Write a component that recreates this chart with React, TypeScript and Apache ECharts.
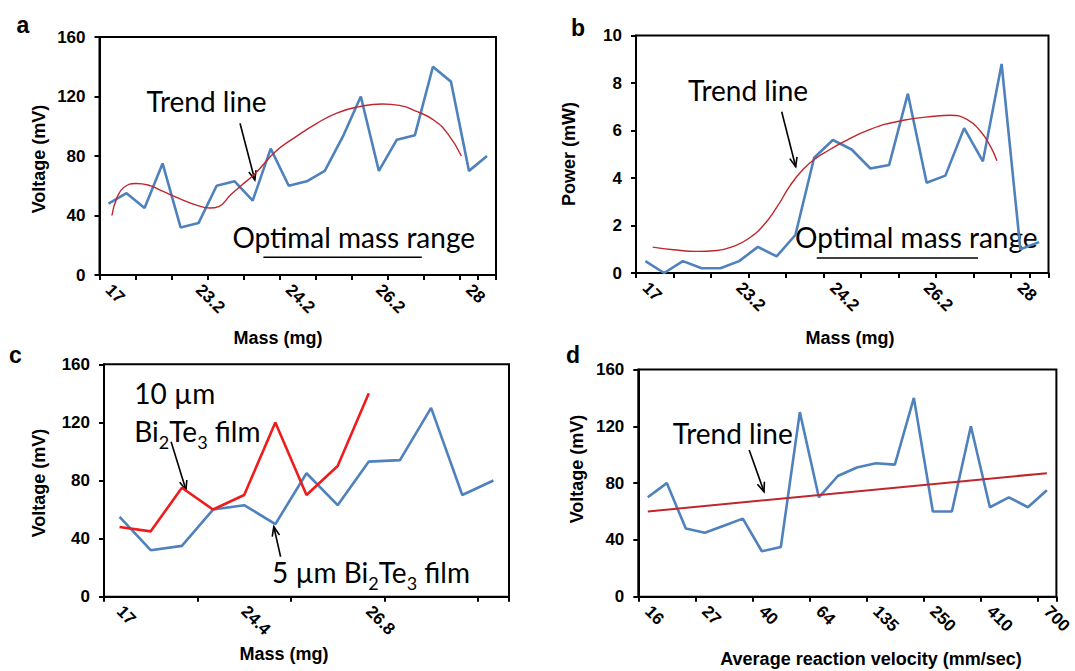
import React, { useEffect, useRef } from 'react';
import * as echarts from 'echarts';

// ---------- data ----------
const massA = ['17', '', '', '', '', '23.2', '', '', '', '', '24.2', '', '', '', '', '26.2', '', '', '', '', '28', ''];
const voltA = [48, 55, 45, 75, 32, 35, 60, 63, 50, 85, 60, 63, 70, 93, 120, 70, 91, 94, 140, 130, 70, 80];
const trendAX = [0.19, 0.47, 0.86, 1.53, 2.19, 2.96, 3.91, 4.87, 5.63, 6.11, 6.78, 7.35, 8.12, 9.27, 10.41, 11.56, 12.7, 13.85, 15.19, 16.14, 17.1, 18.06, 18.82, 19.58];
const trendAY = [40, 52, 59, 61.5, 60.5, 56.5, 51.5, 47, 45, 46, 54, 60, 68, 83, 93, 102, 109, 113, 115, 114, 110, 104, 95, 80];

const massB = ['17', '', '', '', '', '23.2', '', '', '', '', '24.2', '', '', '', '', '26.2', '', '', '', '', '28', ''];
const powerB = [0.5, 0, 0.5, 0.2, 0.2, 0.5, 1.1, 0.7, 1.6, 4.85, 5.6, 5.2, 4.4, 4.55, 7.55, 3.8, 4.1, 6.1, 4.7, 8.8, 1.0, 1.3];
const trendBX = [0.39, 1.49, 2.74, 3.81, 4.69, 5.49, 6.29, 7.01, 7.72, 8.43, 9.14, 9.85, 10.39, 11.99, 13.76, 15.55, 16.26, 17.15, 17.86, 18.39, 18.75];
const trendBY = [1.09, 0.98, 0.91, 0.95, 1.12, 1.44, 2.0, 2.77, 3.68, 4.38, 4.86, 5.2, 5.45, 6.05, 6.43, 6.61, 6.64, 6.47, 5.98, 5.35, 4.73];

const massC = ['17', '', '', '', '24.4', '', '', '', '26.8', '', '', '', ''];
const volt5um = [55, 32, 35, 60, 63, 50, 85, 63, 93, 94, 130, 70, 80];
const volt10um = [48, 45, 75, 60, 70, 120, 70, 90, 140];

const velocityD = ['16', '', '', '27', '', '', '40', '', '', '64', '', '', '135', '', '', '250', '', '', '410', '', '', '700'];
const voltD = [70, 80, 48, 45, 50, 55, 32, 35, 130, 70, 85, 91, 94, 93, 140, 60, 60, 120, 63, 70, 63, 75];
const trendDX = [0, 21];
const trendDY = [60, 87];

// ---------- styles ----------
const AX_FONT = 'Liberation Sans, Arial, sans-serif';
const NOTE_FONT = 'Lato, sans-serif';
const BLUE = '#4F81BD';
const TREND = '#C0262D';
const RED = '#EE1C1C';

const zip = (xs: number[], ys: number[]) => xs.map((x, i) => [x, ys[i]]);

const catAxis = (gridIndex: number, data: string[], tickInterval: number) => ({
  type: 'category',
  gridIndex,
  data,
  boundaryGap: true,
  axisLine: { onZero: false, lineStyle: { color: '#000', width: 2 } },
  axisTick: { show: true, interval: tickInterval, length: 5, lineStyle: { color: '#000', width: 2 } },
  axisLabel: { interval: 0, rotate: -45, margin: 12, color: '#000', fontWeight: 'bold', fontSize: 17, fontFamily: AX_FONT },
  splitLine: { show: false },
});

const valAxis = (gridIndex: number, max: number, interval: number) => ({
  type: 'value',
  gridIndex,
  min: 0,
  max,
  interval,
  axisLine: { show: true, onZero: false, lineStyle: { color: '#000', width: 2 } },
  axisTick: { show: true, length: 5, lineStyle: { color: '#000', width: 2 } },
  axisLabel: { margin: 14, color: '#000', fontWeight: 'bold', fontSize: 17, fontFamily: AX_FONT },
  splitLine: { show: false },
});

const hiddenX = (gridIndex: number, n: number) => ({
  type: 'value', gridIndex, min: -0.5, max: n - 0.5, show: false,
  axisLine: { show: false, onZero: false }, axisTick: { show: false }, axisLabel: { show: false }, splitLine: { show: false },
});

const text = (x: number, y: number, t: string, o: any = {}) => ({
  type: 'text', x, y, silent: true, rotation: o.rotation || 0,
  style: {
    text: t, fill: '#000',
    fontSize: o.size || 28, fontFamily: o.family || NOTE_FONT, fontWeight: o.weight || 'normal',
    align: o.align || 'left', verticalAlign: 'middle',
    textAlign: o.align || 'left', textVerticalAlign: 'middle',
    rich: o.rich,
  },
});

const title = (x: number, y: number, t: string, vertical = false) =>
  text(x, y, t, { size: 18, family: AX_FONT, weight: 'bold', align: 'center', rotation: vertical ? Math.PI / 2 : 0 });

const letter = (x: number, y: number, t: string) =>
  text(x, y, t, { size: 23, family: AX_FONT, weight: 'bold', align: 'center' });

const arrow = (x1: number, y1: number, x2: number, y2: number) => {
  const a = Math.atan2(y2 - y1, x2 - x1);
  const L = 10, w = 0.38;
  const p1 = [x2 - L * Math.cos(a - w), y2 - L * Math.sin(a - w)];
  const p2 = [x2 - L * Math.cos(a + w), y2 - L * Math.sin(a + w)];
  return [
    { type: 'line', silent: true, shape: { x1, y1, x2, y2 }, style: { stroke: '#000', lineWidth: 1.6 } },
    { type: 'polyline', silent: true, shape: { points: [p1, [x2, y2], p2] }, style: { stroke: '#000', lineWidth: 1.6, fill: 'none' } },
  ];
};

const hline = (x1: number, x2: number, y: number) => ({
  type: 'line', silent: true, shape: { x1, y1: y, x2, y2: y }, style: { stroke: '#000', lineWidth: 1.6 },
});

const subRich = {
  n: { fontSize: 28, fontFamily: NOTE_FONT, lineHeight: 40, fill: '#000', color: '#000' },
  s: { fontSize: 18, fontFamily: NOTE_FONT, lineHeight: 18, verticalAlign: 'bottom', fill: '#000', color: '#000' },
};

export default function App() {
  const ref = useRef<HTMLDivElement>(null);
  useEffect(() => {
    if (!ref.current) return;
    const chart = echarts.init(ref.current, null, { renderer: 'svg' });
    const gridBase = { show: true, borderColor: '#000', borderWidth: 2, backgroundColor: 'transparent', containLabel: false };
    const option: any = {
      animation: false,
      backgroundColor: '#fff',
      grid: [
        { ...gridBase, left: 99.5, top: 37, width: 396.5, height: 238 },
        { ...gridBase, left: 636, top: 35.5, width: 412.5, height: 237.5 },
        { ...gridBase, left: 104, top: 364.3, width: 405, height: 232.4 },
        { ...gridBase, left: 638.3, top: 369.5, width: 421.5, height: 227.2 },
      ],
      xAxis: [
        catAxis(0, massA, 1),
        catAxis(1, massB, 1),
        catAxis(2, massC, 2),
        catAxis(3, velocityD, 2),
        hiddenX(0, massA.length),
        hiddenX(1, massB.length),
        hiddenX(3, velocityD.length),
      ],
      yAxis: [
        valAxis(0, 160, 40),
        valAxis(1, 10, 2),
        valAxis(2, 160, 40),
        valAxis(3, 160, 40),
      ],
      series: [
        { type: 'line', xAxisIndex: 0, yAxisIndex: 0, data: voltA, symbol: 'none', lineStyle: { color: BLUE, width: 2.6 } },
        { type: 'line', xAxisIndex: 4, yAxisIndex: 0, data: zip(trendAX, trendAY), smooth: 0.5, symbol: 'none', lineStyle: { color: TREND, width: 1.4 } },
        { type: 'line', xAxisIndex: 1, yAxisIndex: 1, data: powerB, symbol: 'none', lineStyle: { color: BLUE, width: 2.6 } },
        { type: 'line', xAxisIndex: 5, yAxisIndex: 1, data: zip(trendBX, trendBY), smooth: 0.5, symbol: 'none', lineStyle: { color: TREND, width: 1.4 } },
        { type: 'line', xAxisIndex: 2, yAxisIndex: 2, data: volt5um, symbol: 'none', lineStyle: { color: BLUE, width: 2.6 } },
        { type: 'line', xAxisIndex: 2, yAxisIndex: 2, data: volt10um, symbol: 'none', lineStyle: { color: RED, width: 2.6 } },
        { type: 'line', xAxisIndex: 3, yAxisIndex: 3, data: voltD, symbol: 'none', lineStyle: { color: BLUE, width: 2.6 } },
        { type: 'line', xAxisIndex: 6, yAxisIndex: 3, data: zip(trendDX, trendDY), symbol: 'none', lineStyle: { color: TREND, width: 2 } },
      ],
      graphic: [
        letter(23, 25, 'a'),
        letter(578, 28, 'b'),
        letter(15.5, 355, 'c'),
        letter(573, 355, 'd'),
        title(38.6, 159, 'Voltage (mV)', true),
        title(569.4, 154, 'Power (mW)', true),
        title(38.6, 483, 'Voltage (mV)', true),
        title(577, 469, 'Voltage (mV)', true),
        title(278, 338, 'Mass (mg)'),
        title(850, 338, 'Mass (mg)'),
        title(284, 654, 'Mass (mg)'),
        title(871, 659, 'Average reaction velocity (mm/sec)'),
        text(146.5, 101, 'Trend line'),
        ...arrow(240, 123.3, 254.8, 180),
        text(232.4, 236.7, 'Optimal mass range'),
        hline(263.4, 421.8, 257.3),
        text(688, 90, 'Trend line'),
        ...arrow(781.7, 111.7, 795.7, 166.7),
        text(795, 237.3, 'Optimal mass range'),
        hline(816.7, 978, 258),
        text(134.3, 392.7, '10 µm'),
        text(134.3, 431, '{n|Bi}{s|2}{n|Te}{s|3}{n| film}', { rich: subRich }),
        ...arrow(171.1, 441.7, 186, 490),
        text(272, 572, '{n|5 µm Bi}{s|2}{n|Te}{s|3}{n| film}', { rich: subRich }),
        ...arrow(280.6, 556.7, 273.8, 526.7),
        text(672.7, 433.3, 'Trend line'),
        ...arrow(749.2, 450, 764, 491.7),
      ],
    };
    chart.setOption(option);
    return () => chart.dispose();
  }, []);
  return <div ref={ref} style={{ position: 'absolute', left: 0, top: 0, width: 1075, height: 671, background: '#fff' }} />;
}
